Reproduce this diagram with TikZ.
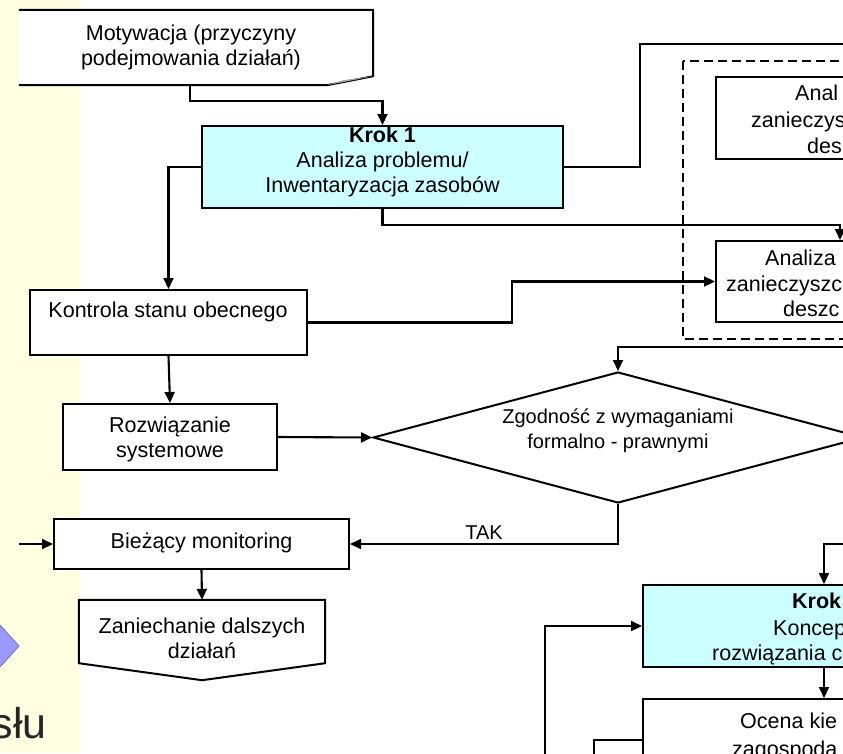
\documentclass[tikz,border=0pt]{standalone}
\usepackage{fontspec}
\setmainfont{Liberation Sans}
\usetikzlibrary{arrows.meta,shapes.geometric,calc}
\definecolor{strip}{RGB}{255,255,226}
\definecolor{cyanbox}{RGB}{204,255,255}
\definecolor{tri}{RGB}{153,153,255}
\definecolor{triedge}{RGB}{110,110,200}
\begin{document}
\begin{tikzpicture}[x=1pt,y=-1pt,
  every node/.style={font=\fontsize{21.5}{25}\selectfont},
  box/.style={draw,line width=2pt,fill=white,inner sep=0pt},
  cbox/.style={box,fill=cyanbox},
  ghost/.style={draw=none,inner sep=0pt},
  lbl/.style={align=center,inner sep=0pt},
  part/.style={anchor=base west,inner sep=0pt},
  conn/.style={line width=2.1pt},
  arr/.style={conn,-{Triangle[length=11pt,width=10pt]}}]
\useasboundingbox (0,0) rectangle (843,753);
\clip (0,0) rectangle (843,753);
% left strip of the slide
\fill[strip] (0,0) rectangle (80,753);
\filldraw[fill=tri,draw=triedge,line width=0.8pt] (-30,592) -- (19,646) -- (-30,700) -- cycle;
\node[anchor=base east,inner sep=0pt,font=\fontsize{43}{50}\selectfont,text=black!85] (slu) at (47,738) {słu};

% Motywacja (document shape)
\node[ghost,minimum width=354pt,minimum height=75pt] (mot) at (196,47.5) {};
\fill[white] (mot.north west) -- (mot.north east) -- ($(mot.south east)+(0,-9)$) -- ($(mot.south east)+(-46,0)$) -- (mot.south west) -- cycle;
\draw[line width=2pt] (mot.north west) -- (mot.north east) -- ($(mot.south east)+(0,-9)$) -- ($(mot.south east)+(-46,0)$) -- (mot.south west);
\fill[gray!70] ($(mot.south east)+(-46,0)$) -- ($(mot.south east)+(-30,-5)$) -- ($(mot.south east)+(0,-9)$) -- cycle;
\node[lbl] (motT) at (191,47) {Motywacja (przyczyny\\podejmowania działań)};

% main boxes
\node[cbox,minimum width=361pt,minimum height=82pt] (k1) at (382.5,167) {};
\node[lbl] (k1T) at (382.5,162) {\textbf{Krok 1}\\Analiza problemu/\\Inwentaryzacja zasobów};
\node[box,minimum width=277pt,minimum height=65pt] (kon) at (168.5,322.5) {};
\node[lbl] (konT) at (168,312) {Kontrola stanu obecnego};
\node[box,minimum width=214pt,minimum height=66pt] (roz) at (170,437) {};
\node[lbl] (rozT) at (170,439) {Rozwiązanie\\systemowe};
\node[box,minimum width=295pt,minimum height=50pt] (bm) at (201.5,544) {};
\node[lbl] (bmT) at (201.5,543) {Bieżący monitoring};
\node[ghost,minimum width=246pt,minimum height=63pt] (zan) at (202,631.5) {};
\filldraw[fill=white,line width=2pt] (zan.north west) -- (zan.north east) -- (zan.south east) -- ($(zan.south)+(0,17)$) -- (zan.south west) -- cycle;
\node[lbl] (zanT) at (202,638) {Zaniechanie dalszych\\działań};

% decision
\node[diamond,draw,line width=2pt,fill=white,inner sep=0pt,shape aspect=3.74,minimum width=490pt,minimum height=131pt] (dia) at (618,437.5) {};
\node[lbl,font=\fontsize{20}{25}\selectfont] (diaT) at (618,431) {Zgodność z wymaganiami\\formalno - prawnymi};

% dashed group (right)
\draw[line width=2pt,dash pattern=on 9pt off 5pt] (683,61) rectangle (980,339);
\node[box,minimum width=228pt,minimum height=82pt] (boxA) at (830,118) {};
\node[part] (a1) at (795,100.7) {Anal};
\node[part] (a2) at (751,127) {zanieczys};
\node[part] (a3) at (807,153) {des};
\node[box,minimum width=228pt,minimum height=81pt] (boxB) at (830,281.5) {};
\node[part] (b1) at (765,265.7) {Analiza};
\node[part] (b2) at (726,291) {zanieczyszc};
\node[part] (b3) at (783,316.7) {deszc};

% step 2 (right bottom)
\node[cbox,minimum width=362pt,minimum height=82pt] (k2) at (824,626) {};
\node[part] (c1) at (792,608) {\textbf{Krok}};
\node[part] (c2) at (773,635) {Koncep};
\node[part] (c3) at (712,660) {rozwiązania c};
\node[box,minimum width=362pt,minimum height=101pt] (oc) at (824,749.5) {};
\node[part] (d1) at (740,728) {Ocena kie};
\node[part] (d2) at (732,756) {zagospoda};

% free ends
\coordinate (offA) at (870,44);
\coordinate (offB) at (870,347);
\coordinate (offC) at (870,544);
\coordinate (offD) at (545,770);
\coordinate (offE) at (594,770);
\coordinate (inL) at (19,544);

% connectors
\draw[arr] ([xshift=-6pt]mot.south) -- ++(0,16) -| (k1.north);
\draw[arr] (k1.west) -| (kon.north);
\draw[arr] (kon.south) -- (roz.north);
\draw[arr] (roz.east) -- (dia.west);
\draw[arr] (kon.east) -- ++(204,0) |- (boxB.west);
\draw[arr] (k1.south) -- ++(0,16) -| ([xshift=125pt]boxB.north west);
\draw[conn] (k1.east) -- ++(76,0) |- (offA);
\draw[arr] (offB) -| (dia.north);
\draw[arr] (dia.south) |- node[pos=0.75,above=3pt,inner sep=0pt,font=\fontsize{20}{24}\selectfont] {TAK} (bm.east);
\draw[arr] (inL) -- (bm.west);
\draw[arr] (bm.south) -- (zan.north);
\draw[arr] (offC) -| (k2.north);
\draw[arr] (k2.south) -- (oc.north);
\draw[arr] (offD) |- (k2.west);
\draw[conn] ([yshift=-42pt]oc.north west) -| (offE);
\end{tikzpicture}
\end{document}
